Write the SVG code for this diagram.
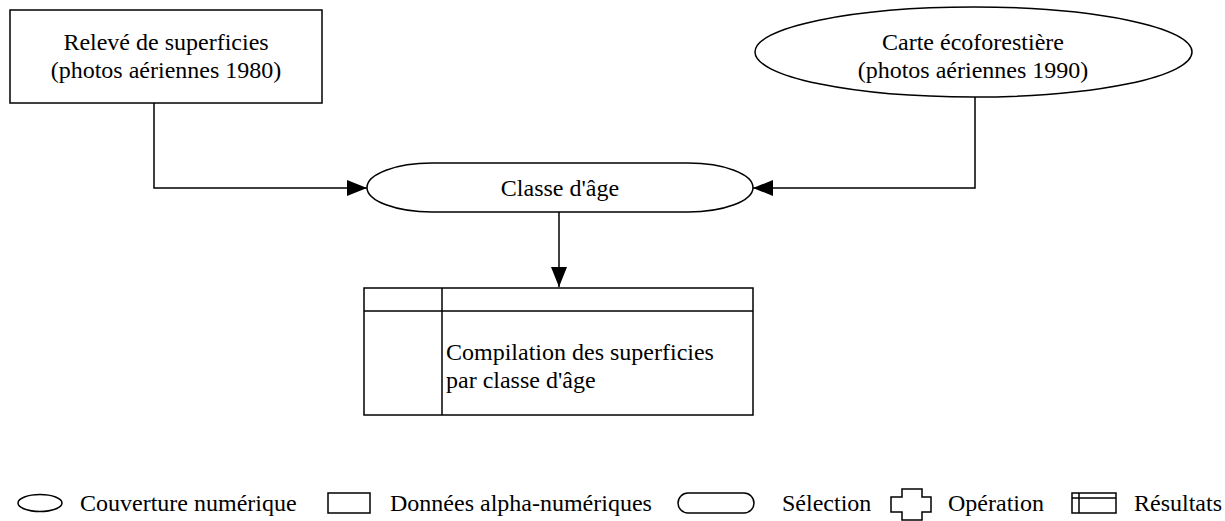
<svg xmlns="http://www.w3.org/2000/svg" width="1225" height="521" viewBox="0 0 1225 521">
<style>
.s{fill:#fff;stroke:#000;stroke-width:1.5}
.n{fill:none;stroke:#000;stroke-width:1.5}
.t{font-family:"Liberation Serif","Times New Roman",serif;font-size:24px;fill:#000}
.c{text-anchor:middle}
</style>
<defs>
<marker id="ah" markerUnits="userSpaceOnUse" markerWidth="20" markerHeight="16" refX="20" refY="8" orient="auto">
<path d="M0,0 L20,8 L0,16 Z" fill="#000"/>
</marker>
</defs>
<g id="connectors">
<path class="n" d="M154,103 V188 H367" marker-end="url(#ah)"/>
<path class="n" d="M975,97 V188 H753" marker-end="url(#ah)"/>
<path class="n" d="M559,212 V287" marker-end="url(#ah)"/>
</g>
<g id="releve">
<rect class="s" x="10" y="10" width="312" height="93"/>
<text class="t c" x="166" y="50">Relevé de superficies</text>
<text class="t c" x="166" y="78">(photos aériennes 1980)</text>
</g>
<g id="carte">
<ellipse class="s" cx="973.5" cy="52" rx="218.5" ry="45"/>
<text class="t c" x="973" y="50">Carte écoforestière</text>
<text class="t c" x="973" y="78">(photos aériennes 1990)</text>
</g>
<g id="classe">
<path class="s" d="M432,163 H688 A65,24.5 0 0 1 688,212 H432 A65,24.5 0 0 1 432,163 Z"/>
<text class="t c" x="560" y="196">Classe d'âge</text>
</g>
<g id="compilation">
<rect class="s" x="364" y="288" width="389" height="127"/>
<line class="n" x1="364" y1="311" x2="753" y2="311"/>
<line class="n" x1="442" y1="288" x2="442" y2="415"/>
<text class="t" x="446" y="360">Compilation des superficies</text>
<text class="t" x="446" y="388">par classe d'âge</text>
</g>
<g id="legend">
<ellipse class="s" cx="40" cy="503" rx="22" ry="8.5"/>
<text class="t" x="80" y="511">Couverture numérique</text>
<rect class="s" x="328" y="493" width="42" height="20"/>
<text class="t" x="390" y="511">Données alpha-numériques</text>
<path class="s" d="M688,493 H744 A10,10 0 0 1 744,513 H688 A10,10 0 0 1 688,493 Z"/>
<text class="t" x="782" y="511">Sélection</text>
<path class="n" d="M902,489 H922 V497 H931 V512 H922 V520 H902 V512 H891 V497 H902 Z"/>
<text class="t" x="948" y="511">Opération</text>
<rect class="s" x="1072" y="493" width="44" height="20"/>
<line class="n" x1="1072" y1="498" x2="1116" y2="498"/>
<line class="n" x1="1079" y1="493" x2="1079" y2="513"/>
<text class="t" x="1134" y="511">Résultats</text>
</g>
</svg>
